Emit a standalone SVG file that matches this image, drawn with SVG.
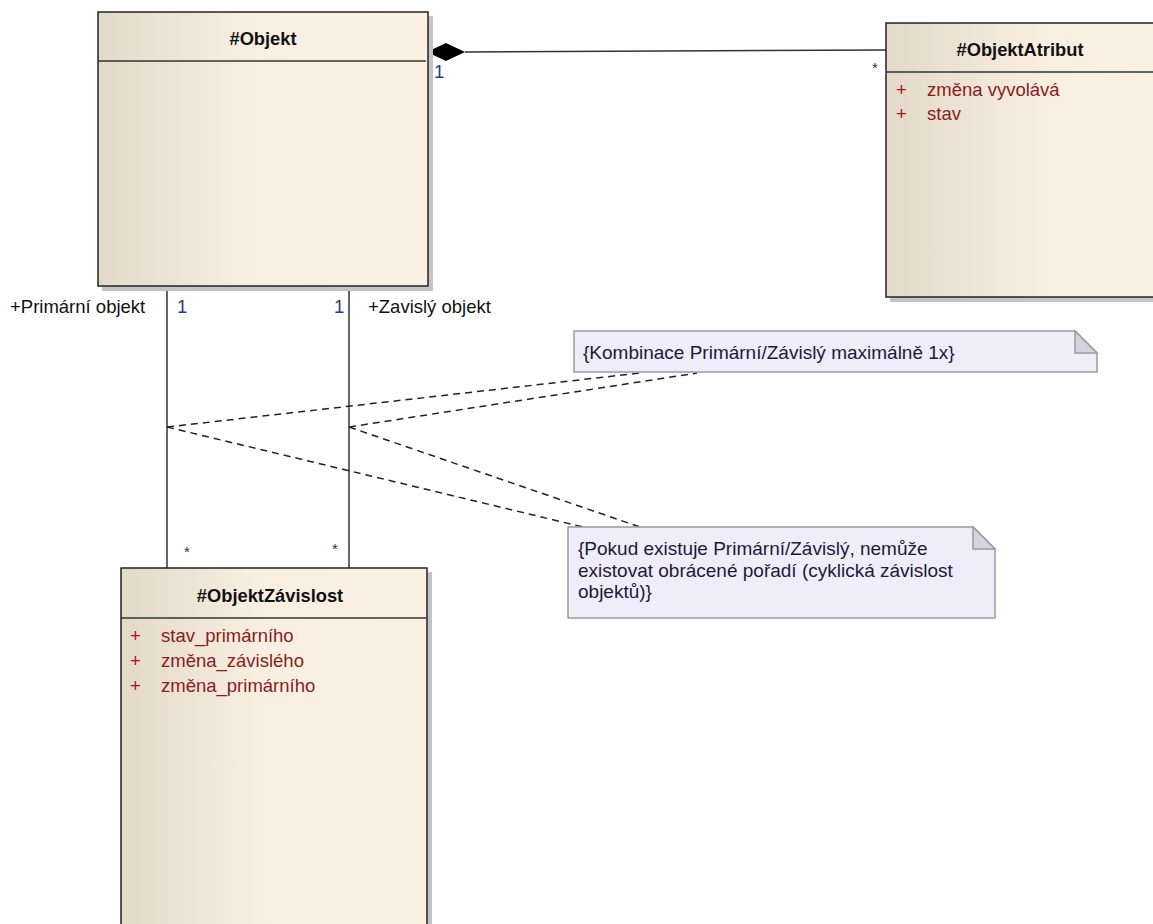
<svg xmlns="http://www.w3.org/2000/svg" width="1153" height="924" viewBox="0 0 1153 924">
<defs>
<linearGradient id="cls" x1="0" y1="0" x2="1" y2="0">
<stop offset="0" stop-color="#e2d9c9"/>
<stop offset="0.45" stop-color="#f9efe1"/>
<stop offset="1" stop-color="#fbf1e3"/>
</linearGradient>
<linearGradient id="clsw" gradientUnits="userSpaceOnUse" x1="886" y1="0" x2="1153" y2="0">
<stop offset="0" stop-color="#e2d9c9"/>
<stop offset="0.6" stop-color="#f9efe1"/>
<stop offset="1" stop-color="#fbf1e3"/>
</linearGradient>
<style>
.box{stroke:#222;stroke-width:1.5}
.shadow{fill:#c4c4c4}
.sep{stroke:#333;stroke-width:1.3}
.title{font-family:"Liberation Sans",Arial,sans-serif;font-size:18.3px;font-weight:bold;fill:#111;text-anchor:middle}
.attr{font-family:"Liberation Sans",Arial,sans-serif;font-size:18.5px;fill:#8b1c1c}
.plus{font-family:"Liberation Sans",Arial,sans-serif;font-size:18.5px;fill:#b01010}
.lbl{font-family:"Liberation Sans",Arial,sans-serif;font-size:18.5px;fill:#111}
.mult{font-family:"Liberation Sans",Arial,sans-serif;font-size:18.5px;fill:#23407a}
.star{font-family:"Liberation Sans",Arial,sans-serif;font-size:15px;fill:#23305a}
.note{fill:#f0edfb;stroke:#9a9a9a;stroke-width:1.5}
.fold{fill:#d5d2e2;stroke:#9a9a9a;stroke-width:1.5}
.ntext{font-family:"Liberation Sans",Arial,sans-serif;font-size:19px;fill:#1a1a3a}
.solid{stroke:#333;stroke-width:1.5;fill:none}
.dash{stroke:#222;stroke-width:1.5;fill:none;stroke-dasharray:7 5}
</style>
</defs>
<rect width="1153" height="924" fill="#ffffff"/>

<g id="connectors">
<line class="solid" x1="465" y1="52" x2="886" y2="50"/>
<polygon points="427,52 446,43 465,52 446,61" fill="#000"/>
<line class="solid" x1="167" y1="290" x2="167" y2="568"/>
<line class="solid" x1="349" y1="290" x2="349" y2="568"/>
<line class="dash" x1="167" y1="427" x2="640" y2="373"/>
<line class="dash" x1="349" y1="427" x2="697" y2="373"/>
<line class="dash" x1="167" y1="427" x2="583" y2="527"/>
<line class="dash" x1="349" y1="427" x2="640" y2="527"/>
<text class="mult" x="434" y="78">1</text>
<text class="star" x="872" y="73">*</text>
<text class="lbl" x="10" y="313">+Primární objekt</text>
<text class="mult" x="177" y="313">1</text>
<text class="mult" x="334" y="313">1</text>
<text class="lbl" x="368" y="313">+Zavislý objekt</text>
<text class="star" x="184" y="557">*</text>
<text class="star" x="332" y="554">*</text>
</g>

<g id="objekt">
<rect class="shadow" x="102" y="16" width="331" height="275"/>
<rect class="box" x="98" y="12" width="330" height="274" fill="url(#cls)"/>
<line class="sep" x1="98" y1="61" x2="426" y2="61"/>
<text class="title" x="263" y="45">#Objekt</text>
</g>

<g id="objektAtribut">
<rect class="shadow" x="890" y="27" width="270" height="275"/>
<rect class="box" x="886" y="23" width="275" height="274" fill="url(#clsw)"/>
<line class="sep" x1="886" y1="72" x2="1153" y2="72"/>
<text class="title" x="1020" y="56">#ObjektAtribut</text>
<text class="plus" x="896" y="96">+</text>
<text class="attr" x="927" y="96">změna vyvolává</text>
<text class="plus" x="896" y="120">+</text>
<text class="attr" x="927" y="120">stav</text>
</g>

<g id="objektZavislost">
<rect class="shadow" x="125" y="572" width="307" height="360"/>
<rect class="box" x="121" y="568" width="306" height="370" fill="url(#cls)"/>
<line class="sep" x1="121" y1="618" x2="426" y2="618"/>
<text class="title" x="270" y="602">#ObjektZávislost</text>
<text class="plus" x="130" y="642">+</text>
<text class="attr" x="161" y="642">stav_primárního</text>
<text class="plus" x="130" y="667">+</text>
<text class="attr" x="161" y="667">změna_závislého</text>
<text class="plus" x="130" y="692">+</text>
<text class="attr" x="161" y="692">změna_primárního</text>
</g>

<g id="note1">
<polygon class="note" points="574,331 1075,331 1097,353 1097,372 574,372"/>
<polygon class="fold" points="1075,331 1075,353 1097,353"/>
<text class="ntext" x="583" y="359">{Kombinace Primární/Závislý maximálně 1x}</text>
</g>

<g id="note2">
<polygon class="note" points="568,527 973,527 995,549 995,618 568,618"/>
<polygon class="fold" points="973,527 973,549 995,549"/>
<text class="ntext" x="578" y="555">{Pokud existuje Primární/Závislý, nemůže</text>
<text class="ntext" x="578" y="577">existovat obrácené pořadí (cyklická závislost</text>
<text class="ntext" x="578" y="598">objektů)}</text>
</g>
</svg>
